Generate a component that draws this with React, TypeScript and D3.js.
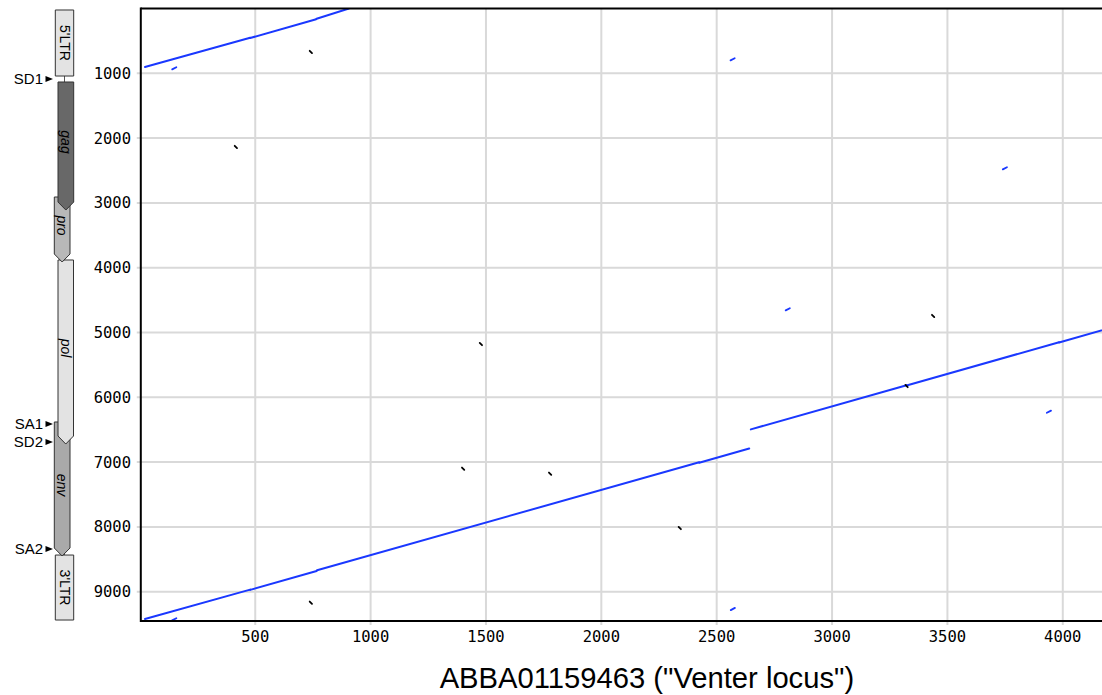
import React from "react"
import * as d3 from "d3"

// tick values
const xTicks = [500, 1000, 1500, 2000, 2500, 3000, 3500, 4000]
const yTicks = [1000, 2000, 3000, 4000, 5000, 6000, 7000, 8000, 9000]

// main reverse-strand alignment runs (x1, y1, x2, y2) in nt
const mainRuns = [
  [22, 903, 478, 452],
  [478, 456, 764, 165],
  [766, 158, 906, 0],
  [22, 9421, 478, 8968],
  [478, 8972, 766, 8680],
  [768, 8668, 2424, 7003],
  [2424, 7009, 2641, 6790],
  [2648, 6495, 3323, 5813],
  [3323, 5818, 3984, 5150],
  [3984, 5153, 4391, 4740],
]

// short reverse hits (centre x, centre y)
const revHitX = [149, 2569, 3749, 2808, 3940, 149, 2570]
const revHitY = [923, 784, 2466, 4642, 6222, 9426, 9267]

// short forward hits
const fwdHitX = [741, 416, 1478, 1401, 1778, 2340, 741, 3438, 3323]
const fwdHitY = [671, 2137, 5178, 7102, 7179, 8017, 9170, 4745, 5826]

// genome map (nt on the y axis)
const geneNames = ["3'LTR", "env", "pol", "pro", "gag", "5'LTR"]
const geneStart = [8434, 6381, 3881, 2909, 1134, 23]
const geneEnd = [9437, 8449, 6721, 3912, 3110, 1042]
const geneArrow = [false, true, true, true, true, false]

const siteNames = ["SD1", "SA1", "SD2", "SA2"]
const sitePos = [1088, 6412, 6690, 8341]

const geneStyle: Record<string, { x0: number; x1: number; fill: string; italic: boolean }> = {
  "5'LTR": { x0: 55.3, x1: 73.7, fill: "#e3e3e3", italic: false },
  "3'LTR": { x0: 55.3, x1: 73.7, fill: "#e3e3e3", italic: false },
  gag: { x0: 58, x1: 73.7, fill: "#686868", italic: true },
  pro: { x0: 54.3, x1: 70, fill: "#b8b8b8", italic: true },
  pol: { x0: 58, x1: 73.5, fill: "#e3e3e3", italic: true },
  env: { x0: 54.3, x1: 70, fill: "#a9a9a9", italic: true },
}

const BLUE = "#1a38ff"

export default function App() {
  const width = 1102
  const height = 695
  const x = d3.scaleLinear().domain([4, 4391]).range([140.8, 1153])
  const y = d3.scaleLinear().domain([0, 9452]).range([8.5, 621])
  const left = x.range()[0]
  const top = y.range()[0]
  const bottom = y.range()[1]
  const head = 8

  return (
    <svg
      width={width}
      height={height}
      style={{ position: "absolute", left: 0, top: 0, background: "#fff" }}
    >
      <defs>
        <clipPath id="plot">
          <rect x={left} y={top} width={width - left} height={bottom - top} />
        </clipPath>
      </defs>

      {/* grid */}
      <g stroke="#d9d9d9" strokeWidth={2}>
        {xTicks.map(t => (
          <line key={"gx" + t} x1={x(t)} x2={x(t)} y1={top} y2={bottom + 4} />
        ))}
        {yTicks.map(t => (
          <line key={"gy" + t} x1={left - 4} x2={width} y1={y(t)} y2={y(t)} />
        ))}
      </g>

      {/* hits */}
      <g clipPath="url(#plot)" strokeLinecap="round">
        {mainRuns.map((d, i) => (
          <line
            key={"m" + i}
            x1={x(d[0])}
            y1={y(d[1])}
            x2={x(d[2])}
            y2={y(d[3])}
            stroke={BLUE}
            strokeWidth={2}
          />
        ))}
        {revHitX.map((v, i) => (
          <line
            key={"r" + i}
            x1={x(v - 9)}
            y1={y(revHitY[i] + 17)}
            x2={x(v + 9)}
            y2={y(revHitY[i] - 17)}
            stroke={BLUE}
            strokeWidth={1.8}
          />
        ))}
        {fwdHitX.map((v, i) => (
          <line
            key={"f" + i}
            x1={x(v - 5)}
            y1={y(fwdHitY[i] - 18)}
            x2={x(v + 5)}
            y2={y(fwdHitY[i] + 18)}
            stroke="#000"
            strokeWidth={1.8}
          />
        ))}
      </g>

      {/* frame */}
      <g stroke="#000" strokeWidth={2} fill="none">
        <line x1={left} x2={width} y1={top} y2={top} />
        <line x1={left} x2={width} y1={bottom} y2={bottom} />
        <line x1={left} x2={left} y1={top - 1} y2={bottom + 1} />
      </g>

      {/* tick labels */}
      <g fontFamily="DejaVu Sans Mono, monospace" fontSize={15.5} fill="#000">
        {xTicks.map(t => (
          <text key={"tx" + t} x={x(t)} y={642} textAnchor="middle">
            {t}
          </text>
        ))}
        {yTicks.map(t => (
          <text key={"ty" + t} x={131} y={y(t) + 5.5} textAnchor="end">
            {t}
          </text>
        ))}
      </g>

      <text
        x={(left + x.range()[1]) / 2}
        y={688}
        textAnchor="middle"
        fontFamily="Liberation Sans, Arial, sans-serif"
        fontSize={29.2}
      >
        ABBA01159463 ("Venter locus")
      </text>

      {/* genome map */}
      <line x1={64.5} x2={64.5} y1={y(geneStart[5])} y2={y(geneEnd[0])} stroke="#555" strokeWidth={1} />
      {geneNames.map((name, i) => {
        const s = geneStyle[name]
        const y0 = y(geneStart[i])
        const y1 = y(geneEnd[i])
        const mid = (s.x0 + s.x1) / 2
        const path = geneArrow[i]
          ? `M${s.x0},${y0}H${s.x1}V${y1 - head}L${mid},${y1}L${s.x0},${y1 - head}Z`
          : `M${s.x0},${y0}H${s.x1}V${y1}H${s.x0}Z`
        const cy = geneArrow[i] ? (y0 + y1 - head) / 2 : (y0 + y1) / 2
        return (
          <g key={name}>
            <path d={path} fill={s.fill} stroke="#333" strokeWidth={1} />
            <text
              transform={`translate(${mid},${cy}) rotate(90)`}
              textAnchor="middle"
              dy="0.35em"
              fontFamily="Liberation Sans, Arial, sans-serif"
              fontSize={14}
              fontStyle={s.italic ? "italic" : "normal"}
              fill="#000"
            >
              {name}
            </text>
          </g>
        )
      })}
      {siteNames.map((n, i) => {
        const py = y(sitePos[i])
        return (
          <g key={n}>
            <path d={`M45.5,${py - 3}L53,${py}L45.5,${py + 3}Z`} fill="#000" />
            <text
              x={43}
              y={py}
              dy="0.35em"
              textAnchor="end"
              fontFamily="Liberation Sans, Arial, sans-serif"
              fontSize={15}
            >
              {n}
            </text>
          </g>
        )
      })}
    </svg>
  )
}
